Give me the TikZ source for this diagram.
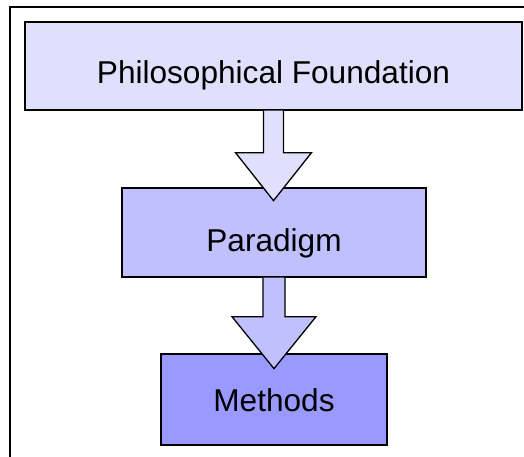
\documentclass[tikz,border=0pt]{standalone}
\usepackage{fontspec}
\setmainfont{Liberation Sans}
\usetikzlibrary{calc}
\definecolor{boxA}{HTML}{E0E0FC}
\definecolor{boxB}{HTML}{C0C0FF}
\definecolor{boxC}{HTML}{9999FF}
\begin{document}
\begin{tikzpicture}[x=1pt,y=-1pt,
  stage/.style={draw=black, line width=1.3pt, rectangle, inner sep=0pt,
    text depth=0pt, font=\fontsize{31.6}{36}\selectfont, text=black},
  blockarrow/.style={draw=black, line width=1.3pt, line join=miter}]
  \useasboundingbox (0,0) rectangle (524,456);
  \fill[white] (0,0) rectangle (524,456);
  % outer frame (only top and left edges fall inside the page)
  \draw[line width=1.6pt] (10,460) -- (10,7) -- (530,7);

  \node[stage, fill=boxA, minimum width=497pt, minimum height=88pt, text height=34pt] (found) at (273.5,66) {Philosophical Foundation};
  \node[stage, fill=boxB, minimum width=304pt, minimum height=89pt, text height=37pt] (para) at (274,232.5) {Paradigm};
  \node[stage, fill=boxC, minimum width=226pt, minimum height=91pt, text height=23pt] (meth) at (274,399.5) {Methods};

  % block arrow from foundation to paradigm
  \draw[blockarrow, fill=boxA]
    ($(found.south)+(-10,0)$) -- ++(0,42) -- ++(-28,0)
    -- ($(found.south)+(0,90)$)
    -- ($(found.south)+(38,42)$) -- ++(-28,0) -- ($(found.south)+(10,0)$);
  % block arrow from paradigm to methods
  \draw[blockarrow, fill=boxB]
    ($(para.south)+(-11,0)$) -- ++(0,39) -- ++(-31,0)
    -- ($(para.south)+(0,91)$)
    -- ($(para.south)+(42,39)$) -- ++(-31,0) -- ($(para.south)+(11,0)$);
\end{tikzpicture}
\end{document}
